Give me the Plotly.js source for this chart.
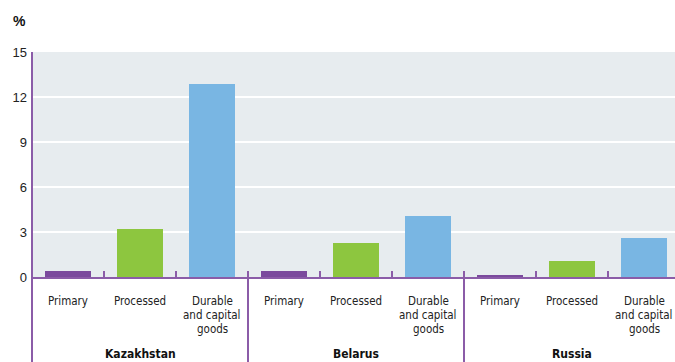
<!DOCTYPE html>
<html>
<head>
<meta charset="utf-8">
<script src="https://cdn.plot.ly/plotly-3.0.1.min.js"></script>
<style>html,body{margin:0;padding:0;background:#fff;}#chart{width:675px;height:362px;}</style>
</head>
<body>
<div id="chart"></div>
<script>
const countries = ["Kazakhstan", "Belarus", "Russia"];
const goodsTypes = ["Primary", "Processed", "Durable<br>and capital<br>goods"];
const primary = [0.4, 0.4, 0.12];
const processed = [3.2, 2.3, 1.05];
const durable = [12.9, 4.1, 2.62];
const colors = ["#7B4A9D", "#8DC63F", "#79B6E3"];
const yTicks = [0, 3, 6, 9, 12, 15];

const series = [primary, processed, durable];
const nT = goodsTypes.length;
const traces = series.map((vals, k) => ({
  type: "bar",
  x: countries.map((c, g) => g * nT + k),
  y: vals,
  width: 0.65,
  marker: {color: colors[k]},
  hoverinfo: "skip",
  showlegend: false
}));

const purple = "#8B5CA8";
const L = 32, T = 52, B = 85, W = 675, H = 362;
const plotH = H - T - B;
const plotW = W - L;
const catPx = 72;
const nCat = countries.length * nT;
const xMax = -0.5 + plotW / catPx;
const base = T + plotH;
const pxToPaperY = (py) => (base - py) / plotH;

const boundaries = [];
for (let i = 0; i < nCat; i++) boundaries.push(i + 0.5);

const labelFont = {family: "Liberation Sans Narrow, DejaVu Sans Condensed, sans-serif", size: 11.5, color: "#222"};
const annotations = [];
countries.forEach((c, g) => {
  goodsTypes.forEach((t, k) => {
    t.split("<br>").forEach((line, li) => {
      annotations.push({
        x: g * nT + k, xref: "x", y: pxToPaperY(301.3 + li * 13.6), yref: "paper",
        text: line, showarrow: false, xanchor: "center", yanchor: "middle",
        font: labelFont, borderpad: 0
      });
    });
  });
  annotations.push({
    x: g * nT + (nT - 1) / 2, xref: "x", y: pxToPaperY(362), yref: "paper",
    text: "<b>" + c + "</b>", showarrow: false, xanchor: "center", yanchor: "bottom",
    font: {family: labelFont.family, size: 12, color: "#111"}, borderpad: 0
  });
});
annotations.push({
  x: (11 - L) / plotW, xref: "paper", y: pxToPaperY(11), yref: "paper",
  text: "<b>%</b>", showarrow: false, xanchor: "left", yanchor: "top",
  font: {family: "Liberation Sans, Arial, sans-serif", size: 14, color: "#111"}
});

const shapes = [];
shapes.push({type: "line", xref: "paper", yref: "paper", x0: 0, x1: 0, y0: 1, y1: -B / plotH,
  line: {color: purple, width: 2}});
for (let g = 1; g < countries.length; g++) {
  shapes.push({type: "line", xref: "x", yref: "paper", x0: g * nT - 0.5, x1: g * nT - 0.5,
    y0: 5 / plotH, y1: -B / plotH, line: {color: purple, width: 2}});
}

const layout = {
  width: W, height: H,
  margin: {l: L, r: 0, t: T, b: B, pad: 0},
  paper_bgcolor: "#fff",
  plot_bgcolor: "#E7ECEF",
  bargap: 0,
  xaxis: {
    range: [-0.5, xMax],
    showgrid: false, zeroline: false,
    showline: true, linecolor: purple, linewidth: 2,
    tickvals: boundaries, ticks: "inside", ticklen: 6, tickcolor: purple, tickwidth: 1.5,
    showticklabels: false, fixedrange: true
  },
  yaxis: {
    range: [0, 15],
    tickvals: yTicks,
    gridcolor: "#ffffff", gridwidth: 1.5,
    zeroline: false, showline: false,
    ticks: "", ticklabelstandoff: 4,
    tickfont: {family: "Liberation Sans, Arial, sans-serif", size: 13, color: "#222"},
    fixedrange: true
  },
  annotations: annotations,
  shapes: shapes
};

Plotly.newPlot("chart", traces, layout, {displayModeBar: false, staticPlot: true});
</script>
</body>
</html>
